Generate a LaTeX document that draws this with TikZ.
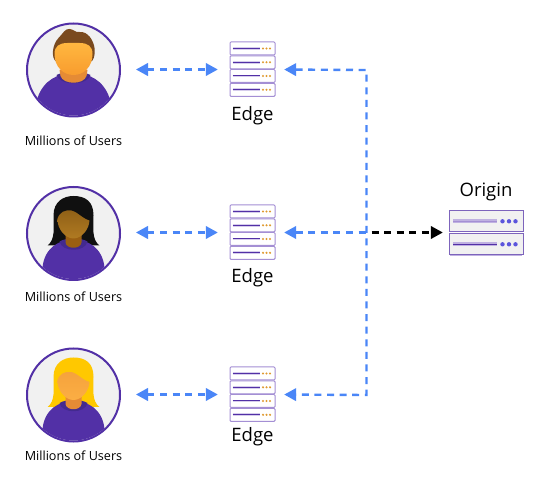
\documentclass[tikz,border=0pt]{standalone}
\usepackage{fontspec}
\setmainfont{Open Sans}
\usetikzlibrary{arrows.meta}

\definecolor{ungu}{HTML}{5230A6}
\definecolor{ungugelap}{HTML}{432A8F}
\definecolor{lilac}{HTML}{A48FD4}
\definecolor{biru}{HTML}{4A86F7}
\definecolor{abu}{HTML}{F1F1F1}
\definecolor{titik}{HTML}{E09A30}
\definecolor{titikb}{HTML}{5B55DC}
\definecolor{rambutc}{HTML}{7A4A1E}
\definecolor{rambuth}{HTML}{101010}
\definecolor{rambutk}{HTML}{FFC800}
\definecolor{wajaha}{HTML}{FFB740}
\definecolor{wajahb}{HTML}{F89C2E}
\definecolor{lehera}{HTML}{E58B35}
\definecolor{wajahc}{HTML}{8E5F16}
\definecolor{wajahd}{HTML}{B07A22}
\definecolor{leherb}{HTML}{9A5F12}
\definecolor{wajahe}{HTML}{F5A23C}
\definecolor{wajahf}{HTML}{FBAE44}

\tikzset{
  usercircle/.style={draw=ungu, line width=2pt, circle, fill=abu, minimum size=93pt, inner sep=0pt},
  edgebox/.style={minimum width=45pt, minimum height=55pt, inner sep=0pt},
  originbox/.style={minimum width=74pt, minimum height=43pt, inner sep=0pt},
  bigtext/.style={font=\fontsize{18.5}{22}\selectfont, inner sep=0pt},
  usertext/.style={font=\fontsize{12.6}{15}\selectfont, inner sep=0pt},
  bluedash/.style={draw=biru, line width=2.4pt, dash pattern=on 7pt off 5.6pt},
  blackdash/.style={draw=black, line width=2.4pt, dash pattern=on 7pt off 5.6pt},
  % satu rak server kecil
  pics/edgeicon/.style={code={
    \foreach \yy in {-27.5,-13.7,0,13.8} {
      \draw[lilac, fill=white, line width=1pt, rounded corners=1pt] (-22.5,\yy) rectangle (22.5,\yy+13);
      \fill[lilac!45] (-20,\yy+5.2) rectangle (7,\yy+8);
      \draw[ungu, line width=0.8pt] (-20,\yy+6.2) -- (7,\yy+6.2);
      \foreach \xx in {10.5,14,17.5} {
        \fill[titik] (\xx,\yy+6.5) circle (1.2pt);
      }
    }
  }},
  % dua rak server besar
  pics/originicon/.style={code={
    \fill[lilac!70] (-36,-19.5) rectangle (37,-21.5);
    \fill[lilac!70] (-36,21.5) rectangle (36,23.5);
    \foreach \yy/\tone in {-21.5/lilac, 1.5/ungu} {
      \draw[ungu!75!white, fill=abu, line width=1pt] (-37,\yy) rectangle (37,\yy+20.5);
      \fill[lilac!70] (-33,\yy+8.5) rectangle (11,\yy+12.5);
      \draw[\tone, line width=1pt] (-33,\yy+10.3) -- (11,\yy+10.3);
      \foreach \xx in {16.5,23,29.5} {
        \fill[titikb] (\xx,\yy+10.3) circle (2.2pt);
      }
    }
  }},
  % pria: rambut, wajah atas, wajah bawah, leher
  pics/avatarman/.style n args={4}{code={
    \begin{scope}
      \clip (0,0) circle (45.5);
      \fill[ungu] (-36,28) .. controls (-30,10) and (-15,3) .. (0,3) .. controls (15,3) and (30,10) .. (36,28) -- (38,50) -- (-38,50) -- cycle;
    \end{scope}
    \fill[ungugelap] (-17,5) .. controls (-14,16) and (14,16) .. (17,5) .. controls (10,1) and (-10,1) .. cycle;
    \fill[#4] (-14,0) -- (14,0) -- (13,6) .. controls (10,15) and (-10,15) .. (-13,6) -- cycle;
    \fill[#1] (-17,-8) .. controls (-23,-12) and (-21,-26) .. (-15,-32) .. controls (-11,-36) and (-8,-42) .. (-4,-41) .. controls (0,-41) and (2,-37) .. (6,-38) .. controls (14,-39) and (20,-30) .. (21,-22) .. controls (22,-15) and (20,-9) .. (17,-8) -- cycle;
    \shade[top color=#2, bottom color=#3] (-19,-16) .. controls (-19,-24) and (-14,-27) .. (-6,-27) -- (6,-27) .. controls (14,-27) and (19,-24) .. (19,-16) .. controls (19,-3) and (10,5) .. (0,5) .. controls (-10,5) and (-19,-3) .. (-19,-16) -- cycle;
  }},
  % wanita: rambut, wajah atas, wajah bawah, leher
  pics/avatarwoman/.style n args={4}{code={
    \fill[#1] (-26,12) .. controls (-18,6) and (-20,-6) .. (-20,-18) .. controls (-20,-32) and (-10,-37.5) .. (0,-37.5) .. controls (12,-37.5) and (20,-32) .. (20,-18) .. controls (20,-6) and (18,6) .. (26,12) -- (10,12) -- (-10,12) -- cycle;
    \begin{scope}
      \clip (0,0) circle (45.5);
      \fill[ungu] (-31,34) .. controls (-29,14) and (-14,6) .. (0,6) .. controls (14,6) and (29,14) .. (31,34) -- (31,50) -- (-31,50) -- cycle;
    \end{scope}
    \fill[ungugelap] (-14,8) .. controls (-12,19) and (12,19) .. (14,8) .. controls (8,4) and (-8,4) .. cycle;
    \fill[#4] (-8,0) -- (8,0) -- (8,9) .. controls (7,16) and (-7,16) .. (-8,9) -- cycle;
    \shade[top color=#2, bottom color=#3] (-16,-14) .. controls (-16,-22) and (-10,-25) .. (0,-25) .. controls (10,-25) and (16,-22) .. (16,-14) .. controls (16,-4) and (8,5) .. (0,5) .. controls (-8,5) and (-16,-4) .. (-16,-14) -- cycle;
    \fill[#1] (-16.5,-13) .. controls (-15,-22) and (-8,-24) .. (-2,-23) .. controls (4,-22) and (10,-14) .. (17,-13) -- (17,-27) -- (-16.5,-27) -- cycle;
  }},
}

\begin{document}
\begin{tikzpicture}[x=1pt, y=-1pt, >={Triangle[length=12pt, width=12.5pt]}]

    \useasboundingbox (0,0) rectangle (544,494);

    % Pengguna
    \node[usercircle] (usera) at (73.5,70) {};
    \node[usercircle] (userb) at (73.5,233.5) {};
    \node[usercircle] (userc) at (73.5,395) {};
    \pic at (usera.center) {avatarman={rambutc}{wajaha}{wajahb}{lehera}};
    \pic at (userb.center) {avatarwoman={rambuth}{wajahc}{wajahd}{leherb}};
    \pic at (userc.center) {avatarwoman={rambutk}{wajahe}{wajahf}{lehera}};

    \node[usertext] (labela) at (73.5,140.5) {Millions of Users};
    \node[usertext] (labelb) at (73.5,297) {Millions of Users};
    \node[usertext] (labelc) at (73.5,456) {Millions of Users};

    % Server tepi
    \node[edgebox] (edgea) at (252.5,69.5) {};
    \node[edgebox] (edgeb) at (252.5,232.5) {};
    \node[edgebox] (edgec) at (252.5,394.5) {};
    \pic at (edgea.center) {edgeicon};
    \pic at (edgeb.center) {edgeicon};
    \pic at (edgec.center) {edgeicon};

    \node[bigtext] (edgelabela) at (252.5,116) {Edge};
    \node[bigtext] (edgelabelb) at (252.5,278) {Edge};
    \node[bigtext] (edgelabelc) at (252.5,437) {Edge};

    % Server asal
    \node[originbox] (origin) at (486,232.5) {};
    \pic at (origin.center) {originicon};
    \node[bigtext] (originlabel) at (486,192) {Origin};

    % Titik belok
    \coordinate (junctop) at (366.5,70);
    \coordinate (juncmid) at (366.5,232.5);
    \coordinate (juncbot) at (366.5,395);

    % Sisi
    \draw[bluedash, <->, shorten <=15pt, shorten >=12pt] (usera.east |- edgea) -- (edgea.west);
    \draw[bluedash, <->, shorten <=15pt, shorten >=12pt] (userb.east |- edgeb) -- (edgeb.west);
    \draw[bluedash, <->, shorten <=15pt, shorten >=12pt] (userc.east |- edgec) -- (edgec.west);

    \draw[bluedash, <->, shorten <=9pt, shorten >=9pt] (edgea.east) -- (junctop) -- (juncbot) -- (edgec.east);
    \draw[bluedash, <-, shorten <=9pt] (edgeb.east) -- (juncmid);
    \draw[blackdash, ->, shorten <=5pt, shorten >=6pt] (juncmid) -- (origin.west);

\end{tikzpicture}
\end{document}
